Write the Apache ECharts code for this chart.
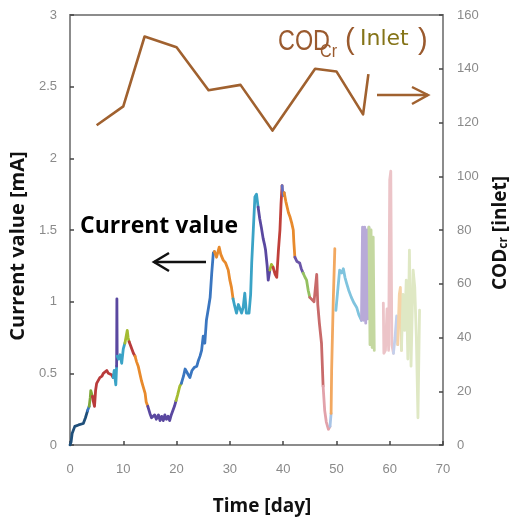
<!DOCTYPE html>
<html>
<head>
<meta charset="utf-8">
<script src="https://cdn.jsdelivr.net/npm/echarts@6/dist/echarts.min.js"></script>
<style>
html,body{margin:0;padding:0;background:#fff;}
#chart{width:514px;height:517px;}
</style>
</head>
<body>
<div id="chart"></div>
<script>
// ---- data ----
var xTicks = [0, 10, 20, 30, 40, 50, 60, 70];
var leftTicks = [0, 0.5, 1, 1.5, 2, 2.5, 3];
var rightTicks = [0, 20, 40, 60, 80, 100, 120, 140, 160];

var codDays   = [5, 10, 14, 20, 26, 32, 38, 46, 50, 55, 56];
var codValues = [119, 126, 152, 148, 132, 134, 117, 140, 139, 123, 138];

var currentDays = [
  0, 0.2, 0.4, 0.9, 1.6, 2.5, 2.9,
  3.3,
  3.6, 3.8, 3.9, 4.05,
  4.2, 4.4, 4.6, 4.8, 5.0, 5.3, 5.6, 6.0, 6.25, 6.6, 6.9, 7.2, 7.5, 7.8,
  8.1, 8.3, 8.5, 8.6,
  8.75, 8.8,
  8.85, 9.1, 9.4, 9.7, 10.0,
  10.3, 10.5, 10.75, 10.9,
  11.1, 11.4, 11.6, 11.9,
  12.2, 12.5, 12.8, 13.1, 13.4, 13.7, 14.1, 14.3,
  14.6, 15.0, 15.3, 15.6, 15.9, 16.2, 16.6, 16.9, 17.2, 17.5, 17.8, 18.1, 18.4, 18.7, 19.0, 19.3, 19.6,
  19.9, 20.2, 20.6,
  20.9, 21.3, 21.6, 21.9, 22.2, 22.5, 22.9, 23.3, 23.8, 24.1, 24.4, 24.7, 25.0, 25.3, 25.6, 26.0, 26.3, 26.6, 26.9,
  27.1, 27.5, 28.0, 28.3, 28.75, 29.2, 29.7, 30.0, 30.3,
  30.6, 30.9, 31.25, 31.6, 31.9, 32.2, 32.5, 32.8, 33.1, 33.6, 33.9, 34.1, 34.4, 34.7, 35.0,
  35.3, 35.6, 35.9, 36.25, 36.5, 36.7, 37.0, 37.2,
  37.5, 37.8,
  38.1, 38.5, 38.8, 39.1, 39.4, 39.6,
  39.8, 40.0,
  40.2, 40.5, 40.8, 41.0, 41.3, 41.6, 41.9, 42.0,
  42.2, 42.6, 43.1, 43.4,
  43.75, 44.1, 44.4, 44.7,
  45.0, 45.8, 46.3, 46.5, 46.8, 47.2,
  47.5, 47.8, 48.1, 48.5,
  48.8,
  49.0, 49.1, 49.4, 49.7,
  49.9, 50.3, 50.6, 51.0, 51.3, 51.6, 51.9, 52.3, 52.8, 53.3, 53.8, 54.2,
  54.7, 54.9, 55.1, 55.3, 55.5, 55.7, 55.9,
  56.1, 56.3, 56.5, 56.7, 56.9, 57.1,
  58.8, 58.9, 59.2, 59.5, 59.8, 60.0, 60.2, 60.4,
  60.7, 61.0, 61.3,
  61.5, 61.8, 62.0,
  62.2, 62.5, 62.8, 63.1, 63.4, 63.7, 64.0, 64.4, 64.7, 65.0, 65.3, 65.6
];
var currentValues = [
  0, 0.02, 0.08, 0.13, 0.14, 0.15, 0.19,
  0.24,
  0.27, 0.33, 0.38, 0.36,
  0.34, 0.30, 0.27, 0.38, 0.43, 0.44, 0.47, 0.48, 0.50, 0.51, 0.52, 0.50, 0.51, 0.49,
  0.47, 0.52, 0.45, 0.42,
  0.55, 1.02,
  0.62, 0.60, 0.63, 0.57, 0.67,
  0.71, 0.75, 0.80, 0.75,
  0.72, 0.69, 0.68, 0.64,
  0.62, 0.58, 0.55, 0.50, 0.45, 0.41, 0.36, 0.30,
  0.27, 0.22, 0.19, 0.19, 0.21, 0.18, 0.21, 0.17, 0.20, 0.17, 0.21, 0.18, 0.20, 0.17, 0.21, 0.22, 0.27,
  0.31, 0.35, 0.41,
  0.43, 0.48, 0.53, 0.52, 0.49, 0.47, 0.52, 0.54, 0.55, 0.59, 0.62, 0.66, 0.76, 0.71, 0.87, 0.96, 1.03, 1.20, 1.34,
  1.35, 1.31, 1.38, 1.33, 1.29, 1.27, 1.22, 1.15, 1.10,
  1.02, 0.97, 0.92, 0.98, 0.99, 0.92, 0.96, 1.06, 0.92, 0.92, 1.05, 1.27, 1.50, 1.73, 1.75,
  1.66, 1.58, 1.52, 1.44, 1.40, 1.36, 1.25, 1.15,
  1.22, 1.26,
  1.24, 1.19, 1.17, 1.35, 1.50, 1.68,
  1.81, 1.74,
  1.76, 1.70, 1.69, 1.62, 1.59, 1.55, 1.50, 1.42,
  1.31, 1.28, 1.27, 1.23,
  1.20, 1.17, 1.15, 1.08,
  1.03, 1.00, 1.19, 0.98, 0.85, 0.71,
  0.41, 0.24, 0.16, 0.11,
  0.13,
  0.22, 0.52, 1.00, 1.37,
  0.94, 1.10, 1.22, 1.20, 1.23, 1.17, 1.13, 1.08, 1.03, 0.99, 0.96, 0.91,
  0.87, 1.52, 0.87, 1.52, 0.85, 1.50, 0.88,
  1.52, 0.70, 1.50, 0.68, 1.45, 0.66,
  0.99, 0.64, 0.66, 0.95, 0.66, 1.85, 1.91, 0.70,
  0.64, 0.75, 0.90,
  0.70, 1.05, 1.10,
  0.66, 1.05, 0.80, 1.15, 0.60, 1.36, 0.55, 1.22, 1.10, 0.75, 0.19, 0.94
];
// day at which each coloured stretch of the current record begins
var segmentStartDays = [0, 3.3, 3.6, 4.2, 8.1, 8.75, 8.85, 10.3, 11.1, 12.2, 14.6, 19.9, 20.9, 27.1, 30.6,
  35.3, 37.5, 38.1, 39.8, 40.2, 42.2, 43.75, 45.0, 47.5, 48.8, 49.0, 49.9, 54.7, 56.1, 58.8, 60.7, 61.5, 62.2];
var segmentColors = ['#1f4f7a', '#3a76c0', '#7fa83a', '#b93b3b', '#3aa3c6', '#5a48a0', '#3aa3c6', '#a4bc32',
  '#b93b3b', '#e88a2c', '#5a48a0', '#a4bc32', '#3a76c0', '#e88a2c', '#3aa3c6',
  '#5a48a0', '#a4bc32', '#c0403a', '#6470c0', '#e88a2c', '#6a55a8', '#94c060', '#c86a6a', '#e2a2aa', '#a8c4e6',
  '#f2a860', '#80c4de', '#b8aad8', '#c4d8a0', '#ecc4c8', '#c4d0ec', '#f6d2a6', '#dfe8c4'];
var gapBeforeDays = [49.9, 58.8];

// ---- build series ----
var series = [];
for (var s = 0; s < segmentStartDays.length; s++) {
  var start = segmentStartDays[s];
  var end = s + 1 < segmentStartDays.length ? segmentStartDays[s + 1] : Infinity;
  var joinNext = gapBeforeDays.indexOf(end) < 0;
  var pts = [];
  for (var i = 0; i < currentDays.length; i++) {
    var d = currentDays[i];
    if (d >= start && (d < end || (joinNext && d === end))) pts.push([d, currentValues[i]]);
  }
  series.push({
    type: 'line', name: 'Current value', xAxisIndex: 0, yAxisIndex: 0,
    data: pts, showSymbol: false, symbol: 'none', silent: true, z: 3,
    lineStyle: { color: segmentColors[s], width: 2.8, join: 'round', cap: 'round' }
  });
}
var codPts = codDays.map(function (d, i) { return [d, codValues[i]]; });
series.push({
  type: 'line', name: 'CODcr (Inlet)', xAxisIndex: 0, yAxisIndex: 1,
  data: codPts, showSymbol: false, symbol: 'none', silent: true, z: 4,
  lineStyle: { color: '#a0612f', width: 2.6, join: 'round' }
});

var tickFont = { color: '#8a8a8a', fontSize: 13, fontFamily: 'Liberation Sans, Arial, sans-serif' };
var axisLine = { show: true, lineStyle: { color: '#8c8c8c', width: 2 } };
var axisTick = { show: true, inside: true, length: 4, lineStyle: { color: '#444', width: 1.5 } };

var chart = echarts.init(document.getElementById('chart'), null, { renderer: 'canvas' });
chart.setOption({
  animation: false,
  backgroundColor: '#ffffff',
  grid: { left: 70, right: 71, top: 15, bottom: 72, containLabel: false, outerBoundsMode: 'none',
    show: true, borderColor: '#8c8c8c', borderWidth: 2, backgroundColor: 'transparent' },
  xAxis: {
    type: 'value', min: xTicks[0], max: xTicks[xTicks.length - 1], interval: 10,
    axisLine: axisLine, axisTick: axisTick, splitLine: { show: false },
    axisLabel: Object.assign({ margin: 18 }, tickFont),
    name: 'Time [day]', nameLocation: 'middle', nameGap: 52,
    nameTextStyle: { color: '#111', fontSize: 19, fontWeight: 'bold', fontFamily: 'Open Sans, sans-serif', padding: [0, 0, 0, 11] }
  },
  yAxis: [{
    type: 'value', position: 'left', min: leftTicks[0], max: leftTicks[leftTicks.length - 1], interval: 0.5,
    axisLine: axisLine, axisTick: axisTick, splitLine: { show: false },
    axisLabel: Object.assign({ margin: 13 }, tickFont),
    name: 'Current value [mA]', nameLocation: 'middle', nameGap: 37, nameRotate: 90,
    nameTextStyle: { color: '#111', fontSize: 20, fontWeight: 'bold', fontFamily: 'Open Sans, sans-serif', padding: [0, 32, 0, 0] }
  }, {
    type: 'value', position: 'right', min: rightTicks[0], max: rightTicks[rightTicks.length - 1], interval: 20,
    axisLine: axisLine, axisTick: axisTick, splitLine: { show: false },
    axisLabel: Object.assign({ margin: 14 }, tickFont),
    name: '{a|COD}{b|cr}{a| [inlet]}', nameLocation: 'middle', nameGap: 43, nameRotate: 90,
    nameTextStyle: {
      padding: [0, 6, 0, 0],
      rich: {
        a: { color: '#111', fontSize: 19, fontWeight: 'bold', fontFamily: 'Open Sans, sans-serif', verticalAlign: 'bottom', lineHeight: 24 },
        b: { color: '#111', fontSize: 12, fontWeight: 'bold', fontFamily: 'Open Sans, sans-serif', verticalAlign: 'bottom', lineHeight: 15 }
      }
    }
  }],
  series: series,
  graphic: [
    { type: 'text', x: 80, y: 226, style: { text: 'Current value', fill: '#000', font: 'bold 23px "Open Sans", sans-serif', textVerticalAlign: 'middle' } },
    { type: 'polyline', shape: { points: [[206, 262], [154, 262]] }, style: { stroke: '#111', lineWidth: 2.5, fill: null } },
    { type: 'polyline', shape: { points: [[169, 253], [154, 262], [169, 271]] }, style: { stroke: '#111', lineWidth: 2.5, fill: null } },
    { type: 'text', x: 278, y: 27, scaleX: 0.78, style: { text: 'COD', fill: '#9a5a2e', font: '30px "Liberation Sans Narrow", "Liberation Sans", sans-serif' } },
    { type: 'text', x: 320, y: 42, scaleX: 0.85, style: { text: 'Cr', fill: '#9a5a2e', font: '19px "Liberation Sans Narrow", "Liberation Sans", sans-serif' } },
    { type: 'text', x: 345, y: 26, style: { text: '(', fill: '#9a5a2e', font: '29px "Liberation Sans Narrow", "Liberation Sans", sans-serif' } },
    { type: 'text', x: 360, y: 28, style: { text: 'Inlet', fill: '#857418', font: '22px "DejaVu Sans", sans-serif' } },
    { type: 'text', x: 418, y: 26, style: { text: ')', fill: '#9a5a2e', font: '29px "Liberation Sans Narrow", "Liberation Sans", sans-serif' } },
    { type: 'polyline', shape: { points: [[377, 95], [428, 95]] }, style: { stroke: '#a0612f', lineWidth: 2.5, fill: null } },
    { type: 'polyline', shape: { points: [[412, 87], [428, 95], [412, 104]] }, style: { stroke: '#a0612f', lineWidth: 2.5, fill: null } }
  ]
});
</script>
</body>
</html>
